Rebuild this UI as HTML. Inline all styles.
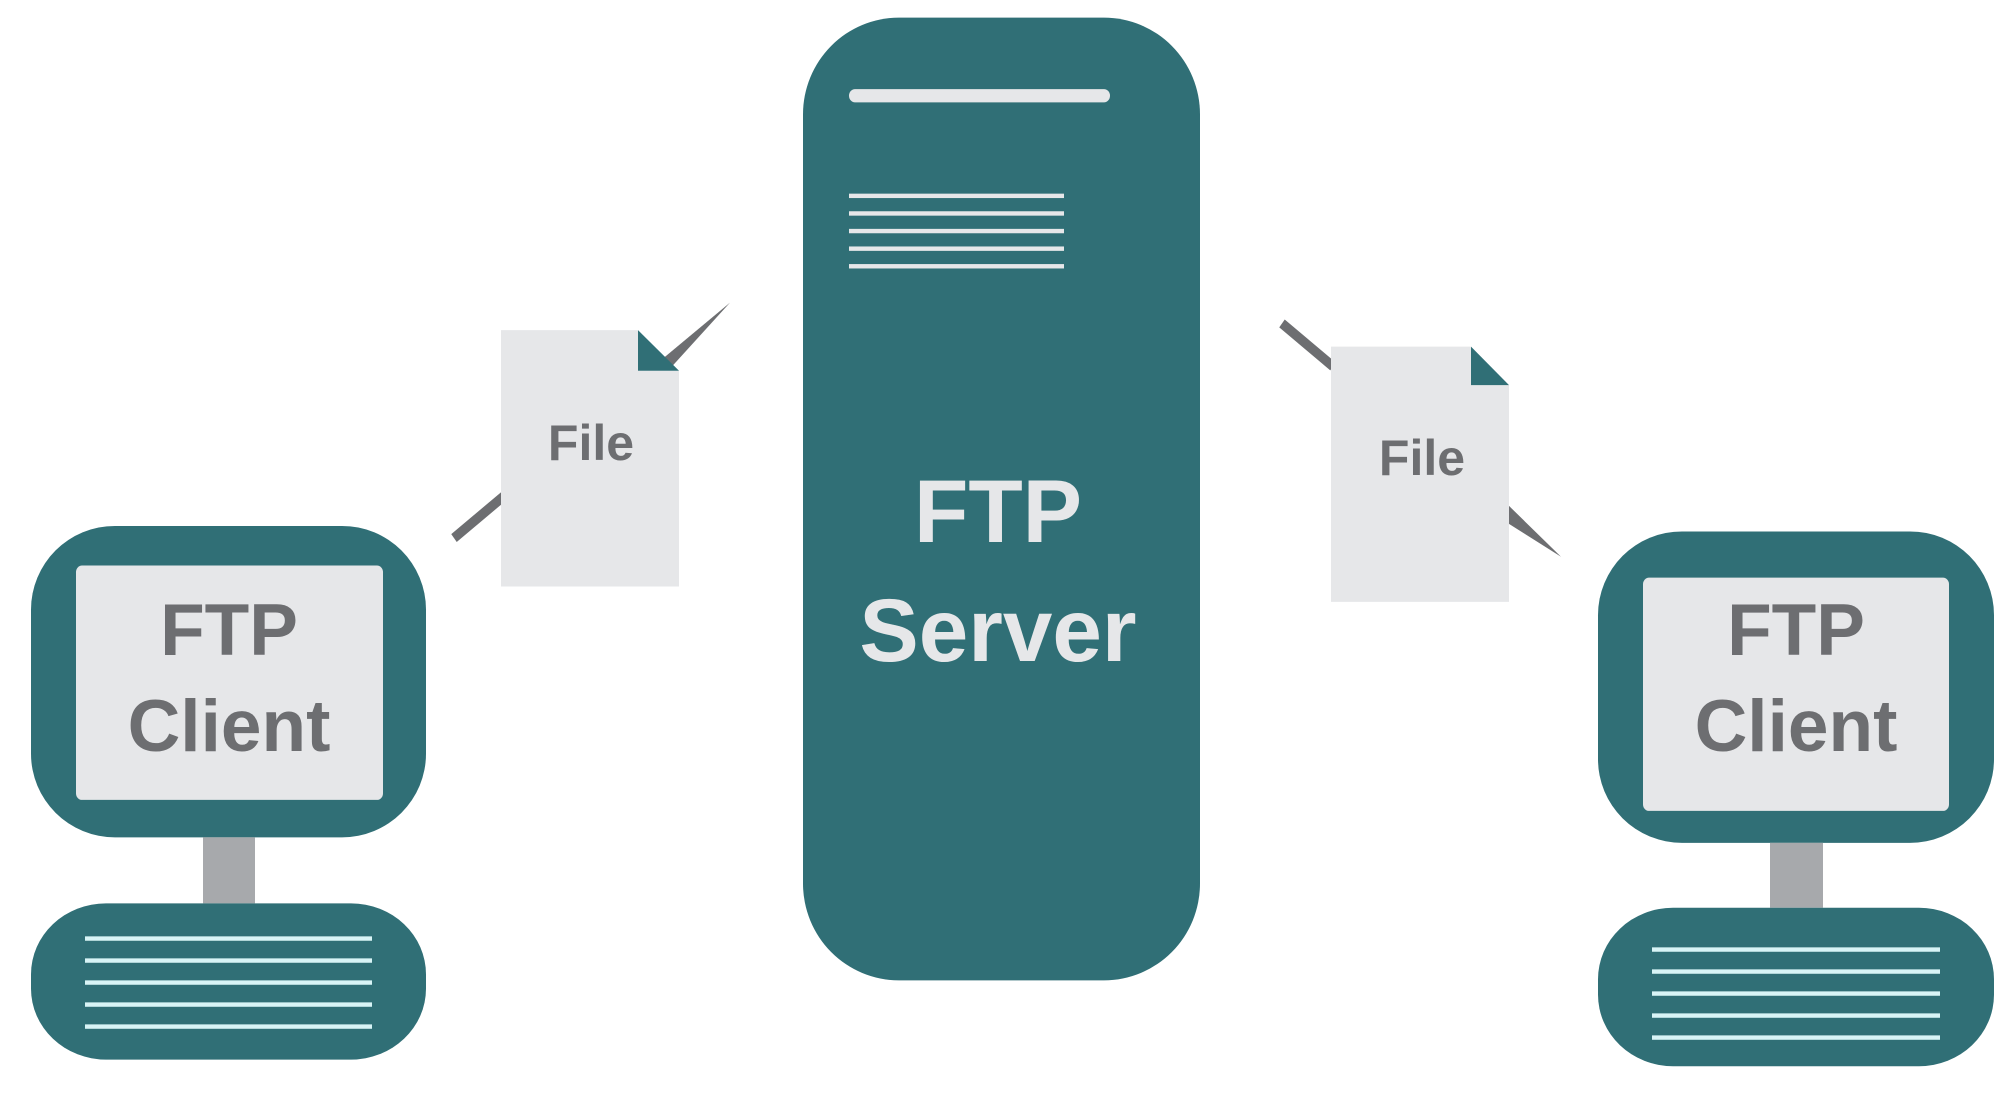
<!DOCTYPE html>
<html><head><meta charset="utf-8"><style>
html,body{margin:0;padding:0;background:#fff;width:2014px;height:1108px;overflow:hidden}
svg{display:block}
text{font-family:"Liberation Sans",sans-serif;font-weight:bold;text-anchor:middle}
</style></head><body>
<svg width="2014" height="1108" viewBox="0 0 2014 1108">
<g transform="scale(1,1.1003)">
<!-- Server -->
<rect x="803" y="16" width="397" height="875" rx="96" ry="88" fill="#306f76"/>
<rect x="849" y="81" width="261" height="12" rx="6" fill="#e6e7e9"/>
<g fill="#e6e7e9">
<rect x="849" y="176" width="215" height="4"/>
<rect x="849" y="192" width="215" height="4"/>
<rect x="849" y="208" width="215" height="4"/>
<rect x="849" y="224" width="215" height="4"/>
<rect x="849" y="240" width="215" height="4"/>
</g>

<!-- Left client -->
<rect x="31" y="478" width="395" height="283" rx="84" ry="76" fill="#306f76"/>
<rect x="76" y="514" width="307" height="213" rx="6" fill="#e6e7e9"/>
<rect x="203" y="761" width="52" height="60" fill="#a7a9ac"/>
<rect x="31" y="821" width="395" height="142" rx="75" ry="64.5" fill="#306f76"/>
<g fill="#d8f4f6">
<rect x="85" y="851" width="287" height="4"/>
<rect x="85" y="871" width="287" height="4"/>
<rect x="85" y="891" width="287" height="4"/>
<rect x="85" y="911" width="287" height="4"/>
<rect x="85" y="931" width="287" height="4"/>
</g>

<!-- Right client -->
<rect x="1598" y="483" width="396" height="283" rx="84" ry="76" fill="#306f76"/>
<rect x="1643" y="525" width="306" height="212" rx="6" fill="#e6e7e9"/>
<rect x="1770" y="766" width="53" height="59" fill="#a7a9ac"/>
<rect x="1598" y="825" width="396" height="144" rx="75" ry="65" fill="#306f76"/>
<g fill="#d8f4f6">
<rect x="1652" y="861" width="288" height="4"/>
<rect x="1652" y="881" width="288" height="4"/>
<rect x="1652" y="901" width="288" height="4"/>
<rect x="1652" y="921" width="288" height="4"/>
<rect x="1652" y="941" width="288" height="4"/>
</g>

<!-- Left connector -->
<line x1="454" y1="489" x2="505" y2="450" stroke="#6d6e71" stroke-width="9"/>
<polygon points="730,275 664,325 672,333" fill="#6d6e71"/>
<!-- Left file -->
<polygon points="501,300 638,300 638,337 679,337 679,533 501,533" fill="#e6e7e9"/>
<polygon points="638,300 638,337 679,337" fill="#306f76"/>

<!-- Right connector -->
<line x1="1282" y1="294" x2="1333" y2="333" stroke="#6d6e71" stroke-width="9"/>
<polygon points="1507,458 1561,506 1507,475" fill="#6d6e71"/>
<!-- Right file -->
<polygon points="1331,315 1471,315 1471,350 1509,350 1509,547 1331,547" fill="#e6e7e9"/>
<polygon points="1471,315 1471,350 1509,350" fill="#306f76"/>
</g>

<text x="998" y="542" font-size="89" fill="#e6e7e9">FTP</text>
<text x="998" y="661" font-size="89" fill="#e6e7e9">Server</text>
<text x="229" y="655" font-size="73" fill="#6d6e71">FTP</text>
<text x="229" y="751" font-size="73" fill="#6d6e71">Client</text>
<text x="1796" y="655" font-size="73" fill="#6d6e71">FTP</text>
<text x="1796" y="751" font-size="73" fill="#6d6e71">Client</text>
<text x="591" y="460" font-size="50" fill="#6d6e71">File</text>
<text x="1422" y="475" font-size="50" fill="#6d6e71">File</text>
</svg>
</body></html>
